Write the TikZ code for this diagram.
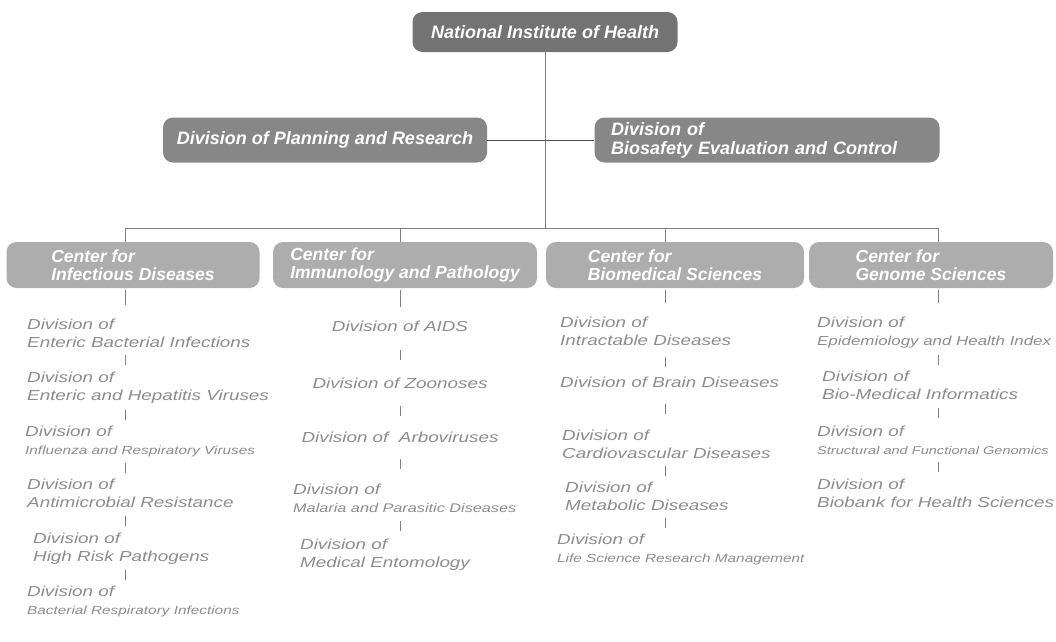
\documentclass[tikz,border=0pt]{standalone}
\usepackage{fontspec}
\setmainfont{Liberation Sans}
\newfontfamily\headfont{Liberation Sans}
\newfontfamily\divfont[FakeStretch=1.3]{Liberation Sans}
\newcommand\smallfnt{\fontsize{11.8}{18}\selectfont}
\usetikzlibrary{calc}

\begin{document}
\begin{tikzpicture}[x=1pt,y=-1pt,
	head/.style={rounded corners=10pt, text=white, inner sep=0pt,
		font=\headfont\bfseries\itshape\fontsize{18}{19}\selectfont},
	top/.style={head, fill=black!55, minimum width=265pt, minimum height=40pt},
	mid/.style={head, fill=black!47, minimum height=45pt, align=left},
	ctr/.style={head, fill=black!32, minimum height=46pt, align=left,
		font=\headfont\bfseries\itshape\fontsize{17.5}{18}\selectfont},
	div/.style={text=black!45, inner sep=0pt, align=left, anchor=north west,
		font=\divfont\itshape\fontsize{14.5}{18}\selectfont},
	link/.style={draw=black!50, line width=0.8pt}]
	\useasboundingbox (0,0) rectangle (1056,641);

	% head and staff divisions
	\node[top] (nih) at (545,32) {National Institute of Health};
	\node[mid, minimum width=324pt] (plan) at (325,140) {Division of Planning and Research};
	\node[mid, minimum width=345pt, text width=312pt] (bio) at (767,140) {Division of\\Biosafety Evaluation and Control};

	% the four centers
	\node[ctr, minimum width=253pt] (cid) at (133,265) {Center for\\Infectious Diseases};
	\node[ctr, minimum width=264pt] (cip) at (405,265) {Center for\\Immunology and Pathology};
	\node[ctr, minimum width=258pt] (cbs) at (675,265) {Center for\\Biomedical Sciences};
	\node[ctr, minimum width=244pt] (cgs) at (931,265) {Center for\\Genome Sciences};

	% bus
	\coordinate (j) at (545,228);
	\coordinate (b1) at (125,228);
	\coordinate (b2) at (400,228);
	\coordinate (b3) at (665,228);
	\coordinate (b4) at (938,228);
	\draw[link] (nih) -- (j);
	\draw[link, draw=black!70] (plan) -- (bio);
	\draw[link] (b1) -- (b4);
	\draw[link] (b1) -- (b1 |- cid.north);
	\draw[link] (b2) -- (b2 |- cip.north);
	\draw[link] (b3) -- (b3 |- cbs.north);
	\draw[link] (b4) -- (b4 |- cgs.north);

	% infectious diseases
	\node[div] (e1) at (27,319) {Division of\\Enteric Bacterial Infections};
	\node[div] (e2) at (27,372) {Division of\\Enteric and Hepatitis Viruses};
	\node[div] (e3) at (25,426) {Division of\\\smallfnt Influenza and Respiratory Viruses};
	\node[div] (e4) at (27,479) {Division of\\Antimicrobial Resistance};
	\node[div] (e5) at (33,533) {Division of\\High Risk Pathogens};
	\node[div] (e6) at (27,586) {Division of\\\smallfnt Bacterial Respiratory Infections};

	% immunology and pathology
	\node[div, anchor=north] (a1) at (400,321) {Division of AIDS};
	\node[div, anchor=north] (a2) at (400,378) {Division of Zoonoses};
	\node[div, anchor=north] (a3) at (400,432) {Division of \ Arboviruses};
	\node[div] (a4) at (293,484) {Division of\\\fontsize{12.5}{18}\selectfont Malaria and Parasitic Diseases};
	\node[div] (a5) at (300,539) {Division of\\Medical Entomology};

	% biomedical sciences
	\node[div] (m1) at (560,317) {Division of\\Intractable Diseases};
	\node[div] (m2) at (560,377) {Division of Brain Diseases};
	\node[div] (m3) at (562,430) {Division of\\Cardiovascular Diseases};
	\node[div] (m4) at (565,482) {Division of\\Metabolic Diseases};
	\node[div] (m5) at (557,534) {Division of\\\smallfnt Life Science Research Management};

	% genome sciences
	\node[div] (g1) at (817,317) {Division of\\\fontsize{13}{18}\selectfont Epidemiology and Health Index};
	\node[div] (g2) at (822,371) {Division of\\Bio-Medical Informatics};
	\node[div] (g3) at (817,426) {Division of\\\fontsize{11.2}{18}\selectfont Structural and Functional Genomics};
	\node[div] (g4) at (817,479) {Division of\\Biobank for Health Sciences};

	% short ticks down each column
	\draw[link, shorten <=2pt, shorten >=14pt] (b1 |- cid.south) -- (b1 |- e1.north);
	\draw[link, shorten <=2pt, shorten >=14pt] (b2 |- cip.south) -- (b2 |- a1.north);
	\draw[link, shorten <=2pt, shorten >=14pt] (b3 |- cbs.south) -- (b3 |- m1.north);
	\draw[link, shorten <=2pt, shorten >=14pt] (b4 |- cgs.south) -- (b4 |- g1.north);
	\foreach \a/\b in {e1/e2,e2/e3,e3/e4,e4/e5,e5/e6}
		\draw[link] ($(b1 |- \a.south)!0.5!(b1 |- \b.north)+(0,-5)$) -- +(0,10);
	\foreach \a/\b in {a1/a2,a2/a3,a3/a4,a4/a5}
		\draw[link] ($(b2 |- \a.south)!0.5!(b2 |- \b.north)+(0,-5)$) -- +(0,10);
	\foreach \a/\b in {m1/m2,m2/m3,m3/m4,m4/m5}
		\draw[link] ($(b3 |- \a.south)!0.5!(b3 |- \b.north)+(0,-5)$) -- +(0,10);
	\foreach \a/\b in {g1/g2,g2/g3,g3/g4}
		\draw[link] ($(b4 |- \a.south)!0.5!(b4 |- \b.north)+(0,-5)$) -- +(0,10);
\end{tikzpicture}
\end{document}
